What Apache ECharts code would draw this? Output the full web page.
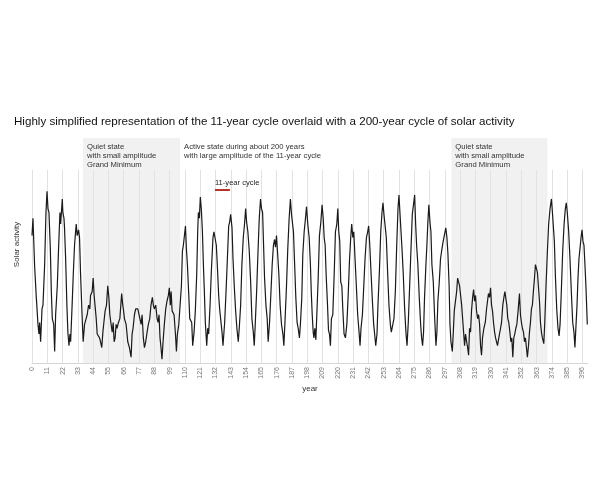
<!DOCTYPE html>
<html>
<head>
<meta charset="utf-8">
<script src="https://cdn.jsdelivr.net/npm/echarts@6/dist/echarts.min.js"></script>
<style>
  html, body { margin: 0; padding: 0; background: #fff; }
  #chart { width: 600px; height: 500px; }
</style>
</head>
<body>
<div id="chart"></div>
<script>
const years = [
  0, 0.7, 1.9, 3.1, 4.3, 5, 5.5, 6.2, 7.2, 7.9, 9.1, 10, 10.8, 11.5, 12.2, 13.2, 13.9, 14.6, 15.6, 16.3,
  17, 18.2, 19.1, 20.1, 20.6, 21.8, 22.2, 23, 23.4, 24.2, 25.1, 25.8, 26.6, 27.3, 27.8, 28.7, 29.7, 30.6, 31.8, 32.5,
  33.5, 34.2, 34.9, 35.9, 36.8, 37.8, 39, 39.7, 40.7, 41.6, 42.1, 43.3, 44, 44.7, 45.5, 46.2, 46.9, 47.8, 48.6, 49.3,
  50.2, 51, 51.7, 52.6, 53.6, 54.5, 55.3, 56, 56.9, 57.7, 58.4, 59.1, 59.8, 60.5, 61.2, 62.2, 63.2, 64.5, 65.3, 65.9,
  66.5, 67.7, 68.9, 70.1, 71.3, 72, 72.7, 73.7, 74.6, 75.4, 76.1, 77.3, 78.5, 79.2, 80.1, 80.9, 81.8, 82.8, 83.7, 84.7,
  85.6, 86.6, 87.3, 88, 89, 90, 90.7, 91.4, 92.1, 92.8, 93.5, 94.3, 95.2, 96.2, 97.1, 98.1, 98.8, 99.5,
  100.1, 100.8, 101.5, 102.2, 103.2, 103.9, 104.6, 105.6, 106.3, 107.5, 108.2, 108.9, 109.6, 110.4, 111.1, 111.8, 112.8, 113.5, 114.2, 114.9,
  115.6, 116.6, 117.5, 118.5, 119.2, 119.7, 120.4, 121.1, 121.8, 122.6, 123.3, 124, 124.7, 125.7, 126.4, 127.1, 128.1, 129, 130.2, 130.9,
  131.9, 132.6, 133.3, 134.3, 135, 135.7, 136.7, 137.4, 138.6, 139.6, 140.5, 141.5, 142.2, 142.9, 143.9, 144.6, 145.5, 146.5, 147.4, 148.4,
  149.1, 150.1, 151, 152, 152.9, 153.7, 154.4, 155.3, 156.3, 157.3, 158.2, 159.2, 159.9, 160.6, 161.6, 162.5, 163.5, 164.4, 165.1, 165.9,
  166.6, 167.3, 168.3, 169.2, 169.9, 170.9, 171.8, 172.8, 173.7, 174.5, 175.2, 175.9, 176.6, 177.6, 178.5, 179.5, 180.5, 181.2, 182.1, 183.1,
  184, 185, 185.9, 186.7, 187.4, 188.1, 188.8, 189.8, 190.7, 191.5, 192.4, 193.1, 194.1, 194.8, 195.8, 196.5, 197.5, 198.4, 199.4, 200.3,
  200.9, 201.6, 202.3, 202.8, 203.5, 204.2, 204.9, 205.9, 206.8, 207.8, 208.7, 209.5, 210.2, 210.9, 211.6, 212.6, 213.3, 214, 214.7, 215.4,
  216.4, 217.4, 218.3, 219.3, 220, 220.7, 221.4, 222.1, 222.9, 223.6, 224.5, 225.5, 226.5, 227.4, 228.4, 229.3, 230, 230.8, 231.5, 232.4,
  233.4, 234.3, 235.3, 236, 236.7, 237.7, 238.7, 239.6, 240.6, 241.5, 242.2, 243, 243.9, 244.9, 245.8, 246.5, 247.3, 248.2, 248.9, 249.9,
  250.9, 251.8, 252.5, 253.2, 254, 254.9, 255.9, 256.8, 257.8, 258.5, 259.5, 260.4, 261.4, 262.3, 263.3, 264, 264.7, 265.4, 266.2, 267.1,
  268.1, 269, 269.8, 270.7, 271.7, 272.6, 273.6, 274.5, 275.3, 276, 276.7, 277.6, 278.6, 279.6, 280.3, 281, 281.7, 282.4, 283.4, 284.1,
  284.8, 285.5, 286.3, 287, 287.7, 288.7, 289.6, 290.6, 291.3, 292, 293, 293.9, 294.9, 295.8, 296.8, 297.7, 298.5, 299.2, 300.1, 300.7,
  301.4, 302.4, 303.1, 303.8, 304.8, 305.5, 306.2, 306.9, 307.6, 308.4, 309.1, 309.8, 310.5, 311.2, 311.9, 312.7, 313.4, 314.1, 314.8, 315.5,
  316.2, 317, 317.7, 318.4, 319.1, 319.8, 320.6, 321.3, 322, 322.7, 323.4, 324.1, 325.1, 326.1, 327, 327.7, 328.4, 329.2, 329.9, 330.6,
  331.3, 332, 332.8, 333.5, 334.2, 334.9, 335.6, 336.3, 337.1, 337.8, 338.7, 339.5, 340.2, 340.9, 341.6, 342.3, 343, 343.8, 344.5, 345.2,
  345.9, 346.6, 347.3, 348.1, 348.8, 349.7, 350.7, 351.4, 352.1, 352.8, 353.6, 354.3, 355, 355.7, 356.4, 357.2, 357.9, 358.6, 359.3, 360,
  360.7, 361.5, 362.2, 362.9, 363.6, 364.3, 365.1, 365.8, 366.5, 367.2, 368.2, 368.9, 369.8, 370.8, 371.7, 372.7, 373.7, 374.4, 375.1, 375.8,
  376.5, 377.5, 378.4, 379.2, 379.9, 380.8, 381.8, 382.8, 383.7, 384.4, 385.1, 386.1, 387.1, 388, 389, 389.9, 390.6, 391.4, 392.1, 392.8,
  393.5, 394.2, 395, 395.7, 396.4, 397.1, 397.8, 398.5, 399.5
];
// solar activity at those years (0 = bottom of plot, 100 = top)
const activity = [
  66, 75, 50, 34, 20, 15, 21, 11, 28, 30, 51, 77, 89, 80, 78, 59, 37, 23, 20, 6,
  25, 40, 59, 78, 72, 85, 78, 75, 70, 54, 30, 16, 9, 15, 11, 27, 46, 61, 72, 66,
  69, 65, 47, 27, 11, 20, 21, 25, 30, 28, 35, 37, 44, 35, 34, 23, 15, 16, 13, 11,
  8, 16, 21, 27, 30, 40, 34, 25, 20, 16, 21, 11, 13, 20, 18, 21, 23, 36, 30, 27,
  23, 20, 11, 8, 3, 15, 18, 25, 28, 27, 28, 27, 20, 25, 13, 8, 11, 16, 20, 23,
  30, 34, 30, 28, 30, 23, 21, 25, 13, 8, 2, 11, 20, 28, 32, 35, 39, 30,
  37, 27, 26, 25, 15, 6, 15, 20, 19, 40, 58, 61, 61, 71, 59, 51, 35, 23, 23, 21,
  9, 16, 27, 46, 68, 78, 75, 86, 80, 68, 51, 37, 21, 9, 18, 15, 30, 47, 65, 68,
  69, 61, 51, 35, 28, 23, 16, 9, 21, 37, 53, 71, 73, 77, 70, 54, 40, 27, 18, 11,
  18, 30, 51, 65, 72, 80, 73, 68, 58, 42, 23, 16, 9, 20, 37, 56, 75, 85, 80, 78,
  61, 44, 30, 23, 11, 21, 35, 51, 61, 64, 60, 66, 58, 46, 30, 20, 15, 9, 23, 40,
  59, 75, 85, 77, 78, 68, 54, 34, 21, 18, 13, 20, 34, 56, 68, 73, 81, 72, 65, 51,
  37, 25, 16, 13, 18, 12, 25, 44, 66, 73, 82, 75, 65, 61, 46, 30, 17, 15, 9, 23,
  25, 46, 68, 72, 80, 68, 63, 42, 40, 28, 15, 13, 20, 34, 53, 65, 72, 65, 68, 54,
  39, 25, 16, 9, 18, 25, 40, 54, 65, 68, 71, 61, 47, 32, 20, 15, 9, 15, 30, 47,
  68, 78, 83, 77, 77, 65, 46, 30, 20, 16, 15, 23, 37, 59, 80, 87, 78, 77, 59, 46,
  28, 16, 9, 21, 40, 58, 77, 78, 87, 72, 61, 51, 34, 20, 13, 9, 16, 34, 51, 61,
  73, 82, 73, 68, 51, 42, 25, 9, 16, 32, 42, 54, 59, 63, 64, 70, 65, 57, 40, 20,
  11, 6, 16, 27, 28, 37, 44, 45, 40, 40, 30, 23, 16, 9, 15, 11, 8, 4, 18, 16,
  27, 34, 38, 32, 35, 27, 23, 25, 20, 9, 4, 13, 18, 21, 28, 32, 36, 34, 39, 30,
  27, 21, 16, 13, 11, 9, 10, 15, 18, 21, 30, 34, 37, 38, 30, 23, 21, 16, 11, 13,
  3, 13, 15, 18, 20, 27, 36, 25, 21, 18, 16, 11, 13, 8, 3, 9, 16, 21, 28, 30,
  37, 44, 51, 52, 47, 40, 32, 21, 16, 13, 10, 21, 40, 58, 72, 80, 85, 78, 77, 63,
  46, 28, 18, 14, 20, 37, 58, 72, 80, 83, 78, 68, 53, 37, 21, 16, 8, 20, 30, 44,
  54, 59, 65, 69, 63, 61, 51, 40, 20
];
const tickStep = 11;
const quietSpans = [[36.7, 106.5], [301.7, 370.8]];
const activeSpan = [106.5, 301.7];
const cycleBar = [131.6, 142.4];
const cycleBarLevel = 90;

const quietText = 'Quiet state\nwith small amplitude\nGrand Minimum';
const activeText = 'Active state during about 200 years\nwith large amplitude of the 11-year cycle';

let chart = echarts.init(document.getElementById('chart'));
let boxLabel = {
  show: true,
  position: 'insideTopLeft',
  distance: 4,
  fontSize: 7.7,
  lineHeight: 9,
  color: '#333'
};
let option = {
  animation: false,
  textStyle: { fontFamily: 'Liberation Sans, Arial, sans-serif' },
  title: {
    text: 'Highly simplified representation of the 11-year cycle overlaid with a 200-year cycle of solar activity',
    left: 14,
    top: 116,
    padding: 0,
    textStyle: { fontSize: 11.6, fontWeight: 'normal', color: '#111' }
  },
  grid: [
    { left: 32, right: 12, top: 138, bottom: 137 },
    { left: 32, right: 12, top: 170, bottom: 137 }
  ],
  xAxis: [
    { gridIndex: 0, type: 'value', min: 0, max: 400, show: false },
    {
      gridIndex: 1,
      type: 'value',
      min: 0,
      max: 400,
      interval: tickStep,
      z: 3,
      name: 'year',
      nameLocation: 'middle',
      nameGap: 22,
      nameTextStyle: { fontSize: 8, color: '#333' },
      axisLine: { lineStyle: { color: '#d6d6d6' } },
      axisTick: { show: false },
      axisLabel: { rotate: 90, fontSize: 7, color: '#777', margin: 4, showMaxLabel: false },
      splitLine: { show: true, showMaxLine: false, lineStyle: { color: '#e2e2e2', width: 1 } }
    }
  ],
  yAxis: [
    { gridIndex: 0, type: 'value', min: 0, max: 1, show: false },
    {
      gridIndex: 1,
      type: 'value',
      min: 0,
      max: 100,
      axisLine: { show: false },
      axisTick: { show: false },
      axisLabel: { show: false },
      splitLine: { show: false },
      name: 'Solar activity',
      nameLocation: 'middle',
      nameRotate: 90,
      nameGap: 11,
      nameTextStyle: { fontSize: 8, color: '#333', padding: [0, 0, 0, 44] }
    }
  ],
  series: [
    {
      // carries the shaded state boxes, taller than the plot itself
      type: 'line',
      xAxisIndex: 0,
      yAxisIndex: 0,
      data: [],
      silent: true,
      markArea: {
        silent: true,
        itemStyle: { color: '#f1f1f1' },
        label: boxLabel,
        data: [
          [{ xAxis: quietSpans[0][0], label: { formatter: quietText } }, { xAxis: quietSpans[0][1] }],
          [{ xAxis: activeSpan[0], itemStyle: { color: 'rgba(0,0,0,0)' }, label: { formatter: activeText } }, { xAxis: activeSpan[1] }],
          [{ xAxis: quietSpans[1][0], label: { formatter: quietText } }, { xAxis: quietSpans[1][1] }]
        ]
      }
    },
    {
      type: 'line',
      xAxisIndex: 1,
      yAxisIndex: 1,
      z: 5,
      data: years.map((y, i) => [y, activity[i]]),
      symbol: 'none',
      lineStyle: { color: '#1a1a1a', width: 1.2 },
      markLine: {
        silent: true,
        symbol: 'none',
        lineStyle: { color: '#b5352a', width: 2, type: 'solid' },
        label: { show: true, position: 'insideStartTop', distance: [0, 2], fontSize: 7.6, color: '#222', formatter: '11-year cycle' },
        data: [
          [{ coord: [cycleBar[0], cycleBarLevel] }, { coord: [cycleBar[1], cycleBarLevel] }]
        ]
      }
    }
  ]
};
chart.setOption(option);
</script>
</body>
</html>
